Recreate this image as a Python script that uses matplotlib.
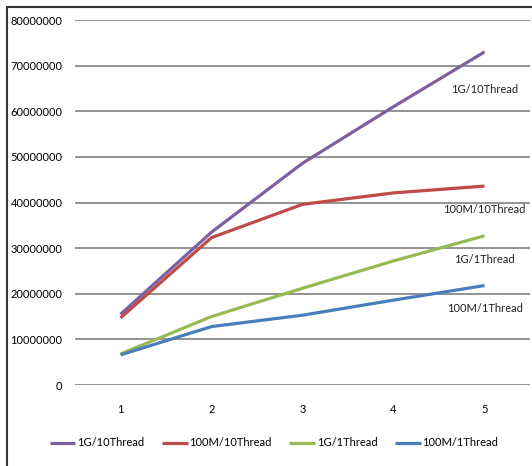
import matplotlib
matplotlib.use('Agg')
import matplotlib.pyplot as plt
from matplotlib.patches import Rectangle

plt.rcParams['font.family'] = ['Lato', 'DejaVu Sans']

# Data
runs = [1, 2, 3, 4, 5]
series_names = ['1G/10Thread', '100M/10Thread', '1G/1Thread', '100M/1Thread']
g1_10thread = [15.5e6, 33.5e6, 48.6e6, 61.0e6, 73.0e6]
m100_10thread = [14.7e6, 32.3e6, 39.6e6, 42.1e6, 43.6e6]
g1_1thread = [6.8e6, 15.0e6, 21.2e6, 27.2e6, 32.7e6]
m100_1thread = [6.6e6, 12.8e6, 15.3e6, 18.6e6, 21.8e6]
yticks = [0, 10e6, 20e6, 30e6, 40e6, 50e6, 60e6, 70e6, 80e6]

colors = ['#7D60A0', '#BE4B48', '#98B954', '#4A7EBB']
values = [g1_10thread, m100_10thread, g1_1thread, m100_1thread]
# where the inline series labels sit (x, y in data units)
label_pos = [(5.0, 64.7e6), (5.0, 38.5e6), (5.0, 27.4e6), (5.0, 16.8e6)]

fig = plt.figure(figsize=(5.32, 4.66), dpi=100)
ax = fig.add_axes([75/532, 1 - 385/466, 455/532, 365/466])

for name, vals, c in zip(series_names, values, colors):
    ax.plot(runs, vals, color=c, lw=2.3, label=name, solid_capstyle='butt')

for name, (x, y) in zip(series_names, label_pos):
    ax.text(x, y, name, fontsize=8, ha='center', va='center', color='#222222')

ax.set_xlim(0.5, 5.5)
ax.set_ylim(0, 80e6)
ax.set_yticks(yticks)
ax.set_yticklabels([str(int(v)) for v in yticks])
ax.set_xticks(runs)
ax.set_xticklabels([str(r) for r in runs])
ax.tick_params(axis='y', length=0, pad=9, labelsize=8)
ax.tick_params(axis='x', length=0, pad=14, labelsize=8)
for s in ax.spines.values():
    s.set_visible(False)
ax.grid(axis='y', color='#8a8a8a', lw=1.3)
ax.set_axisbelow(True)

fig.legend(loc='center', bbox_to_anchor=(0.515, 1 - 443/466), ncol=4, frameon=False,
           fontsize=8, handlelength=2.3, handletextpad=0.15, columnspacing=1.6)

# outer chart border
fig.add_artist(Rectangle((7/532, -0.1), 1.0, 1 - 7/466 + 0.1, transform=fig.transFigure,
                         fill=False, edgecolor='#333333', lw=1.5))

fig.savefig('out.png', dpi=100)
